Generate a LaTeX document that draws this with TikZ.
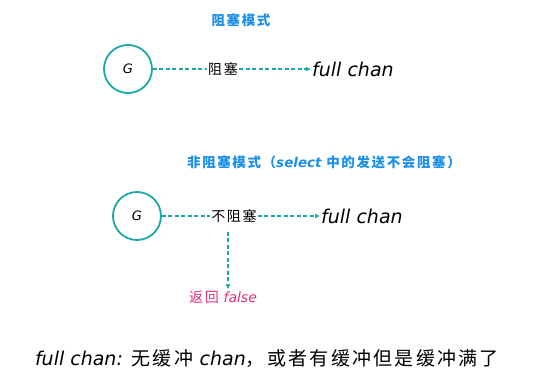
\documentclass[tikz,border=0pt]{standalone}
\usepackage{fontspec}
\setmainfont{Noto Sans CJK SC}[LetterSpace=12]
\newfontfamily\latinhand{DejaVu Sans}
\newcommand{\en}[1]{{\latinhand\itshape #1}}
\usetikzlibrary{positioning, arrows.meta}
\definecolor{chanteal}{HTML}{1BA9A7}
\definecolor{modeblue}{HTML}{1C8FE6}
\definecolor{retpink}{HTML}{E0307A}

\begin{document}
\begin{tikzpicture}[x=1pt,y=-1pt,
    gor/.style={circle,draw=chanteal,line width=1.8pt,minimum size=48pt,inner sep=0pt,font=\fontsize{13}{15}\selectfont\latinhand\itshape},
    send/.style={chanteal,line width=1.8pt,dash pattern=on 4pt off 2.5pt},
    title/.style={text=modeblue,font=\fontsize{13.5}{15}\selectfont\bfseries},
    word/.style={inner sep=1pt,font=\fontsize{14}{16}\selectfont},
    chan/.style={inner sep=1pt,font=\fontsize{19}{22}\selectfont\latinhand\itshape},
    >={Latex[length=5pt,width=5pt]}]
    \useasboundingbox (0,0) rectangle (539,388);

      % blocking send
      \node[title]  (mode1)  at (241,20)  {阻塞模式};
      \node[gor]    (g1)     at (128,69)  {G};
      \node[word]   (b1)     at (223,69)  {阻塞};
      \node[chan,anchor=west] (fc1) at (311,69) {full chan};

      \path[send] (g1) edge (b1)
                  (b1) edge [->] (fc1);

      % non-blocking send inside select
      \node[title]  (mode2)  at (324,162) {非阻塞模式（\en{select} 中的发送不会阻塞）};
      \node[gor]    (g2)     at (137,216) {G};
      \node[word]   (b2)     at (234,216) {不阻塞};
      \node[chan,anchor=west] (fc2) at (320,216) {full chan};
      \node[word,text=retpink,font=\fontsize{14}{16}\selectfont] (ret) at (223,297) {返回 \en{false}};

      \path[send] (g2) edge (b2)
                  (b2) edge [->] (fc2);
      \draw[send,->] (b2.south -| 228,0) ++(0,8) -- (ret.north -| 228,0);

      % note on what full chan means
      \node[inner sep=0pt,font=\fontsize{19}{22}\selectfont] (note) at (267,359)
        {\en{full chan:} 无缓冲 \en{chan}，或者有缓冲但是缓冲满了};
\end{tikzpicture}
\end{document}
